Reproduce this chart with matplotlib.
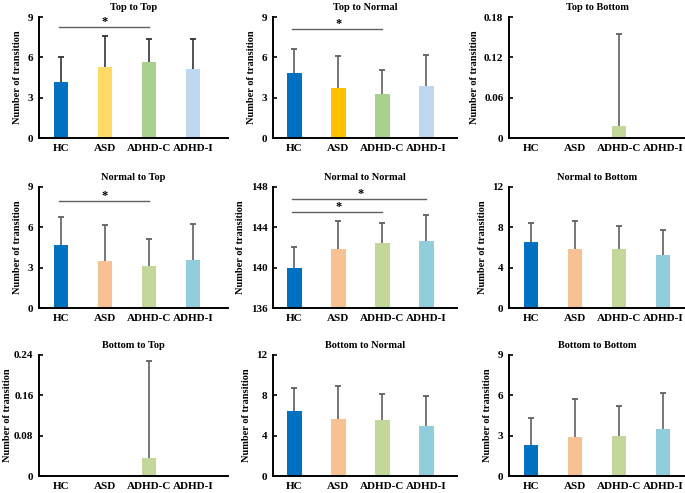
import matplotlib
matplotlib.use("Agg")
import matplotlib.pyplot as plt

plt.rcParams["font.family"] = ["Liberation Serif", "DejaVu Serif"]
plt.rcParams["font.weight"] = "bold"

groups = ["HC", "ASD", "ADHD-C", "ADHD-I"]

# means and upper error (SD)
top_top_mean = [4.2, 5.25, 5.65, 5.1]
top_top_sd = [1.85, 2.35, 1.75, 2.25]
top_normal_mean = [4.8, 3.7, 3.3, 3.85]
top_normal_sd = [1.85, 2.4, 1.75, 2.35]
top_bottom_mean = [0, 0, 0.018, 0]
top_bottom_sd = [0, 0, 0.137, 0]
normal_top_mean = [4.7, 3.5, 3.1, 3.6]
normal_top_sd = [2.05, 2.65, 2.0, 2.65]
normal_normal_mean = [140.0, 141.9, 142.4, 142.6]
normal_normal_sd = [2.05, 2.7, 2.05, 2.65]
normal_bottom_mean = [6.5, 5.9, 5.85, 5.25]
normal_bottom_sd = [1.95, 2.7, 2.25, 2.5]
bottom_top_mean = [0, 0, 0.035, 0]
bottom_top_sd = [0, 0, 0.193, 0]
bottom_normal_mean = [6.45, 5.7, 5.6, 5.0]
bottom_normal_sd = [2.25, 3.2, 2.55, 2.95]
bottom_bottom_mean = [2.3, 2.9, 2.95, 3.5]
bottom_bottom_sd = [2.0, 2.85, 2.25, 2.65]

colors_a = ["#0070C0", "#FFD966", "#A9D18E", "#BDD7EE"]
colors_b = ["#0070C0", "#FFC000", "#A9D18E", "#BDD7EE"]
colors_c = ["#0070C0", "#F8C193", "#C4D79B", "#92CDDC"]

panels = [
    ("Top to Top", top_top_mean, top_top_sd, [0, 3, 6, 9], colors_a, [(0, 2, 8.26)]),
    ("Top to Normal", top_normal_mean, top_normal_sd, [0, 3, 6, 9], colors_b, [(0, 2, 8.1)]),
    ("Top to Bottom", top_bottom_mean, top_bottom_sd, [0, 0.06, 0.12, 0.18], colors_c, []),
    ("Normal to Top", normal_top_mean, normal_top_sd, [0, 3, 6, 9], colors_c, [(0, 2, 7.96)]),
    ("Normal to Normal", normal_normal_mean, normal_normal_sd, [136, 140, 144, 148], colors_c,
     [(0, 2, 145.5), (0, 3, 146.8)]),
    ("Normal to Bottom", normal_bottom_mean, normal_bottom_sd, [0, 4, 8, 12], colors_c, []),
    ("Bottom to Top", bottom_top_mean, bottom_top_sd, [0, 0.08, 0.16, 0.24], colors_c, []),
    ("Bottom to Normal", bottom_normal_mean, bottom_normal_sd, [0, 4, 8, 12], colors_c, []),
    ("Bottom to Bottom", bottom_bottom_mean, bottom_bottom_sd, [0, 3, 6, 9], colors_c, []),
]

W, H = 685, 493
col_left = [39, 273, 509]
col_xlim = [(-0.5, 3.8), (-0.48, 3.7), (-0.5, 3.5)]
row_top = [17, 187, 355]
unit = 44.0
ax_h = 121

fig = plt.figure(figsize=(W / 100, H / 100), dpi=100)

for i, (title, mean, sd, yt, cols, sig) in enumerate(panels):
    r, c = divmod(i, 3)
    x0, x1 = col_xlim[c]
    w = (x1 - x0) * unit
    ax = fig.add_axes([col_left[c] / W, (H - row_top[r] - ax_h) / H, w / W, ax_h / H])
    xs = list(range(len(groups)))
    bottom = yt[0]
    ax.bar(xs, [m - bottom for m in mean], bottom=bottom, width=0.34, color=cols, zorder=2)

    # upper error bars only
    ecol = "#333333" if i == 0 else "#606060"
    for x, m, s in zip(xs, mean, sd):
        if s <= 0:
            continue
        ax.vlines(x, m, m + s, color=ecol, lw=1.2, zorder=3)
        ax.plot([x], [m + s], marker="_", ms=4, mew=1.3, color=ecol, zorder=3)

    span = yt[-1] - yt[0]
    for a, b, y in sig:
        ax.plot([a - 0.05, b], [y, y], color="#606060", lw=1, zorder=3)
        ax.text((a + b) / 2, y + span * 0.045, "*", ha="center", va="center", fontsize=9,
                fontweight="bold")
    ax.set_xlim(x0, x1)
    ax.set_ylim(yt[0], yt[-1])
    ax.set_yticks(yt)
    ax.set_yticklabels(["{:g}".format(v) for v in yt])
    ax.set_xticks(xs)
    ax.set_xticklabels(groups)
    ax.tick_params(axis="x", length=0, pad=4, labelsize=8)
    ax.tick_params(axis="y", direction="in", length=3, width=1.2, pad=4, labelsize=8)
    for lab in ax.get_xticklabels() + ax.get_yticklabels():
        lab.set_fontweight("bold")
    ax.spines["top"].set_visible(False)
    ax.spines["right"].set_visible(False)
    ax.spines["left"].set_linewidth(1.4)
    ax.spines["bottom"].set_linewidth(1.4)
    lp = 1.5 if yt[-1] < 1 and c == 0 else 4
    ax.set_ylabel("Number of transition", fontsize=7.5, fontweight="bold", labelpad=lp)
    ax.set_title(title, fontsize=7.5, fontweight="bold", pad=5)

fig.savefig("out.png", dpi=100)
